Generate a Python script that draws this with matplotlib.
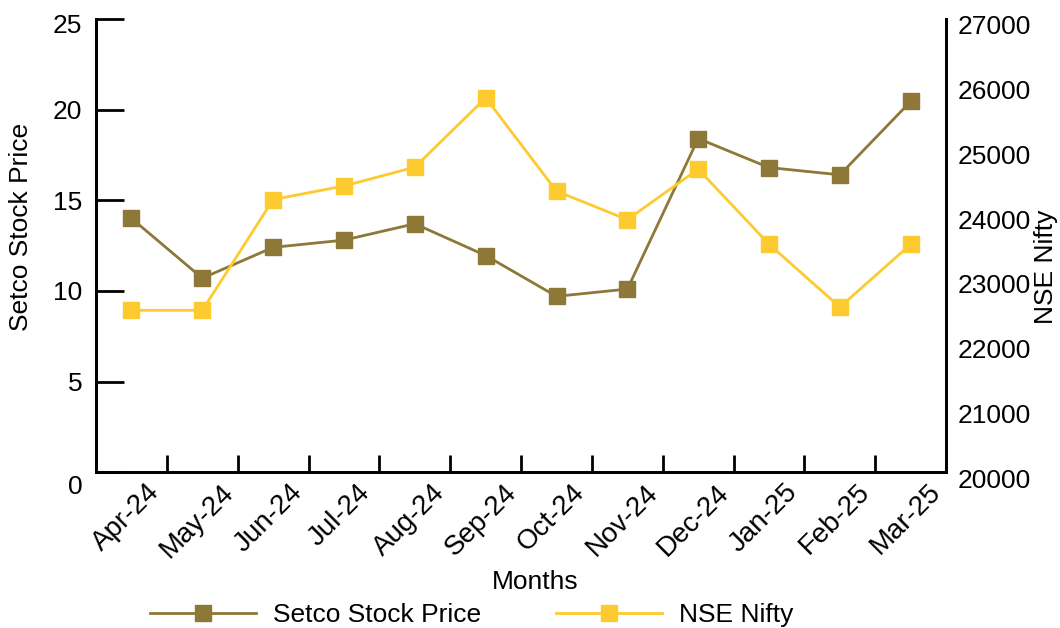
import matplotlib
matplotlib.use("Agg")
import matplotlib.pyplot as plt
import matplotlib.transforms as mtrans
from matplotlib.lines import Line2D

plt.rcParams['font.family'] = ['Liberation Sans', 'DejaVu Sans']

months = ['Apr-24', 'May-24', 'Jun-24', 'Jul-24', 'Aug-24', 'Sep-24',
          'Oct-24', 'Nov-24', 'Dec-24', 'Jan-25', 'Feb-25', 'Mar-25']
setco = [14.0, 10.7, 12.4, 12.8, 13.7, 11.95, 9.7, 10.1, 18.4, 16.8, 16.4, 20.45]
nifty = [22500, 22500, 24210, 24420, 24710, 25780, 24340, 23900, 24680, 23520, 22550, 23520]

brown = '#8E7837'
yellow = '#FDCA2F'

fig = plt.figure(figsize=(10.6, 6.28), dpi=100)
ax = fig.add_axes([0.0906, 0.248, 0.802, 0.722])
ax2 = ax.twinx()

x = list(range(len(months)))
ax.plot(x, setco, color=brown, lw=2, marker='s', ms=11.5, zorder=3)
ax2.plot(x, nifty, color=yellow, lw=2, marker='s', ms=11.5, zorder=3)

ax.set_xlim(-0.5, 11.5)
ax.set_ylim(0, 25)
ax2.set_ylim(20000, 27000)
ax.set_yticks([0, 5, 10, 15, 20, 25])
ax2.set_yticks(range(20000, 27001, 1000))

ax.set_xticks(x)
ax.set_xticklabels(months, rotation=45, ha='center', fontsize=20)
ax.set_xticks([i + 0.5 for i in range(11)], minor=True)
ax.tick_params(axis='x', which='major', length=0, pad=5)
ax.tick_params(axis='x', which='minor', direction='in', length=12, width=2)
ax.tick_params(axis='y', direction='in', length=20, width=2, labelsize=19, pad=10)
ax2.tick_params(axis='y', length=0, labelsize=19, pad=8)

# nudge labels a little like the original
for lab in ax.get_xticklabels():
    lab.set_transform(lab.get_transform() + mtrans.ScaledTranslation(-5 / 100, 0, fig.dpi_scale_trans))
ylabs = ax.get_yticklabels()
ylabs[0].set_transform(ylabs[0].get_transform() + mtrans.ScaledTranslation(0, -12 / 100, fig.dpi_scale_trans))
ylabs[-1].set_transform(ylabs[-1].get_transform() + mtrans.ScaledTranslation(0, -5 / 100, fig.dpi_scale_trans))
for lab in ax2.get_yticklabels():
    lab.set_transform(lab.get_transform() + mtrans.ScaledTranslation(0, -6 / 100, fig.dpi_scale_trans))

for a in (ax, ax2):
    a.spines['top'].set_visible(False)
    for s in ('left', 'bottom', 'right'):
        a.spines[s].set_linewidth(2)

ax.set_xlabel('Months', fontsize=19)
ax.xaxis.set_label_coords(0.516, -0.216)
ax.set_ylabel('Setco Stock Price', fontsize=19)
ax.yaxis.set_label_coords(-0.074, 0.54)
ax2.set_ylabel('NSE Nifty', fontsize=19)
ax2.yaxis.set_label_coords(1.1035, 0.4525)

handles = [Line2D([], [], color=brown, lw=2, marker='s', ms=11.5),
           Line2D([], [], color=yellow, lw=2, marker='s', ms=11.5)]
fig.legend(handles, ['Setco Stock Price', 'NSE Nifty'], loc='center',
           bbox_to_anchor=(0.445, 0.021), ncol=2, frameon=False, fontsize=19,
           handlelength=4.0, handletextpad=0.65, columnspacing=2.85,
           borderpad=0, borderaxespad=0)

fig.savefig('out.png', dpi=100)
